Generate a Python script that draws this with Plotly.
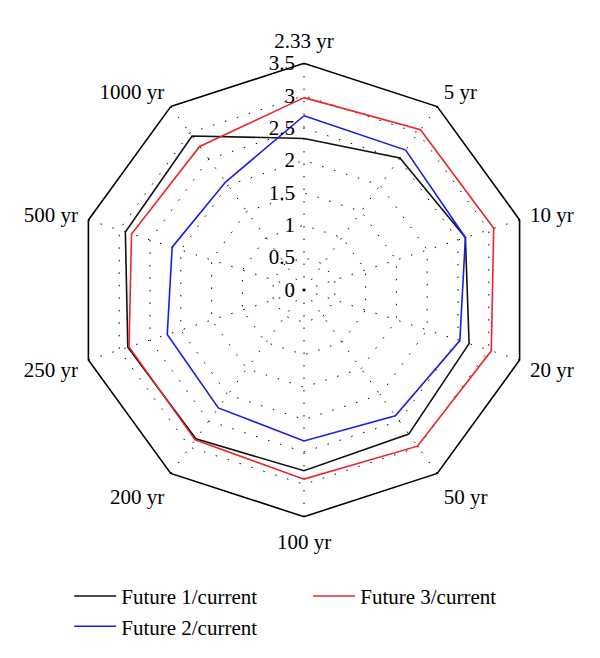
import plotly.graph_objects as go

categories = ["2.33 yr", "5 yr", "10 yr", "20 yr", "50 yr", "100 yr",
              "200 yr", "250 yr", "500 yr", "1000 yr"]
future1 = [2.34, 2.52, 2.62, 2.68, 2.75, 2.79, 2.84, 2.86, 2.90, 2.94]
future2 = [2.69, 2.67, 2.62, 2.53, 2.40, 2.33, 2.25, 2.22, 2.14, 2.06]
future3 = [2.97, 3.06, 3.08, 3.04, 2.98, 2.92, 2.86, 2.84, 2.80, 2.74]
series_names = ["Future 1/current", "Future 2/current", "Future 3/current"]
radial_ticks = [0, 0.5, 1, 1.5, 2, 2.5, 3, 3.5]
radial_labels = ["0", "0.5", "1", "1.5", "2", "2.5", "3", "3.5"]

colors = ["#111111", "#1c1ce6", "#e8262b"]
ranks = [1, 3, 2]
FONT = "Liberation Serif"

fig = go.Figure()
for name, vals, col, rk in zip(series_names, [future1, future2, future3], colors, ranks):
    fig.add_trace(go.Scatterpolar(
        r=vals + [vals[0]], theta=categories + [categories[0]],
        mode="lines", name=name, line=dict(color=col, width=1.6),
        legendrank=rk))

dx = -8 / 600
dy = 7 / 658
fig.update_layout(
    width=600, height=658,
    margin=dict(l=0, r=0, t=0, b=0),
    paper_bgcolor="white",
    font=dict(family=FONT, color="black", size=21),
    showlegend=True,
    legend=dict(orientation="h", x=0.102, xanchor="left", y=0.137, yanchor="top",
                entrywidth=182, font=dict(family=FONT, size=21),
                bgcolor="rgba(0,0,0,0)", tracegroupgap=0, itemwidth=42),
    polar=dict(
        domain=dict(x=[77.3/600 + dx, 530.7/600 + dx], y=[142.3/658 + dy, 595.7/658 + dy]),
        bgcolor="white",
        gridshape="linear",
        radialaxis=dict(range=[0, 3.5], tickvals=radial_ticks,
                        ticktext=[t + "\u00a0" for t in radial_labels],
                        angle=90, tickangle=90, side="counterclockwise",
                        showline=False, ticks="",
                        gridcolor="black", griddash="1.5px,11px", gridwidth=1.2,
                        tickfont=dict(family=FONT, size=21)),
        angularaxis=dict(direction="clockwise", rotation=90,
                         showline=True, linecolor="black", linewidth=1.6,
                         gridcolor="black", griddash="1.5px,11px", gridwidth=1.2,
                         ticks="outside", ticklen=6, tickcolor="rgba(0,0,0,0)",
                         tickfont=dict(family=FONT, size=21)),
    ),
)

fig.write_html("out.html")
